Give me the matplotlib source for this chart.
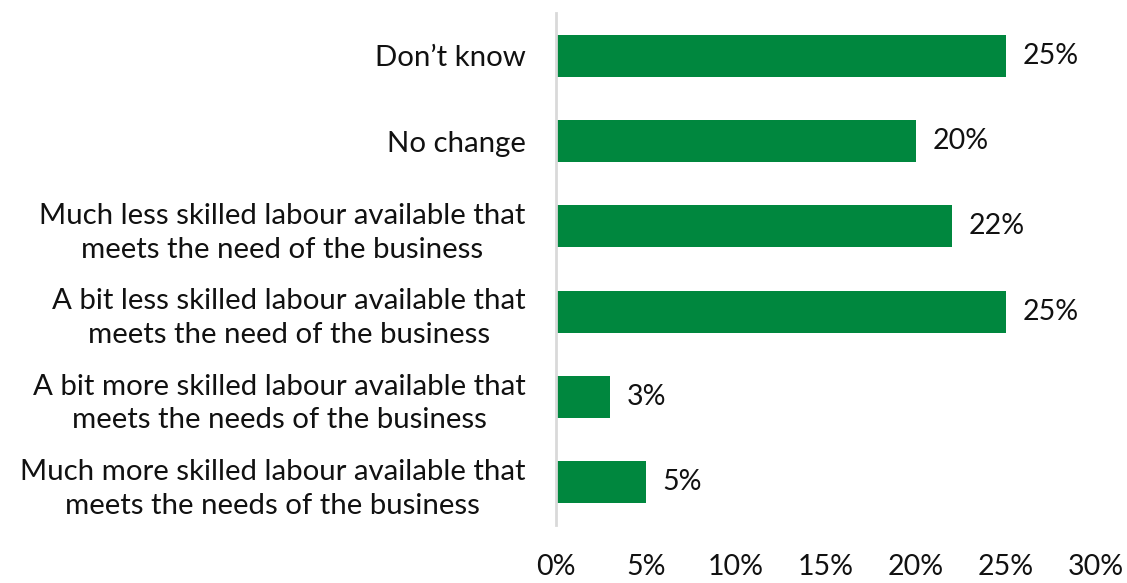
import matplotlib
matplotlib.use("Agg")
import matplotlib.pyplot as plt

plt.rcParams['font.family'] = ['Lato', 'DejaVu Sans']

categories = [
    "Don\u2019t know",
    "No change",
    "Much less skilled labour available that\nmeets the need of the business",
    "A bit less skilled labour available that\nmeets the need of the business",
    "A bit more skilled labour available that\nmeets the needs of the business",
    "Much more skilled labour available that\nmeets the needs of the business",
]
values = [25, 20, 22, 25, 3, 5]
x_ticks = [0, 5, 10, 15, 20, 25, 30]

FS = 20.5
fig = plt.figure(figsize=(11.27, 5.83), dpi=100)
ax = fig.add_axes([556 / 1127, 1 - 525 / 583, 540 / 1127, 512 / 583])

y = list(range(len(categories)))
ax.barh(y, values, height=0.49, color="#00873E")
ax.set_ylim(len(categories) - 0.5, -0.5)
ax.set_xlim(0, 30)

for yi, v in zip(y, values):
    ax.annotate(f"{v}%", xy=(v, yi), xytext=(12, 0), textcoords="offset points",
                va="center", ha="left", fontsize=FS, color="#111111")

ax.set_yticks(y)
ax.set_yticklabels(categories, fontsize=21.2, color="#111111", ha="right",
                   multialignment="center", linespacing=1.38)
ax.set_xticks(x_ticks)
ax.set_xticklabels([f"{t}%" for t in x_ticks], fontsize=FS, color="#111111")

ax.tick_params(axis="y", length=0, pad=22)
ax.tick_params(axis="x", length=0, pad=21)
for side in ["top", "right", "bottom"]:
    ax.spines[side].set_visible(False)
ax.spines["left"].set_color("#D9D9D9")
ax.spines["left"].set_linewidth(2)

fig.savefig("out.png", dpi=100)
